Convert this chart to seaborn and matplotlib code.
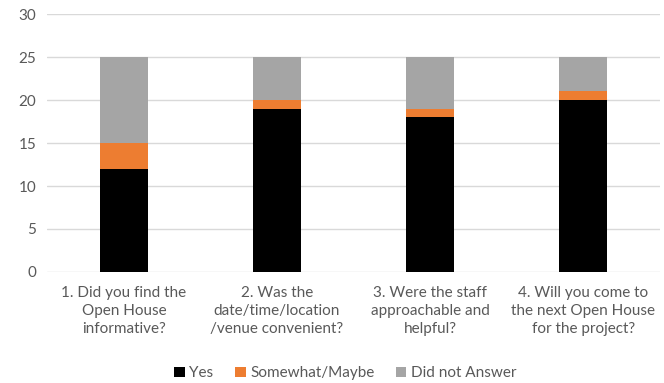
import matplotlib
matplotlib.use("Agg")
import matplotlib.pyplot as plt
from matplotlib.patches import Patch
import seaborn as sns
import pandas as pd
import numpy as np

questions = [
    "1. Did you find the\nOpen House\ninformative?",
    "2. Was the\ndate/time/location\n/venue convenient?",
    "3. Were the staff\napproachable and\nhelpful?",
    "4. Will you come to\nthe next Open House\nfor the project?",
]
yes = [12, 19, 18, 20]
somewhat = [3, 1, 1, 1]
no_answer = [10, 5, 6, 4]

series_names = ["Yes", "Somewhat/Maybe", "Did not Answer"]
colors = ["#000000", "#ED7D31", "#A5A5A5"]

sns.set_theme(style="white")
plt.rcParams["font.family"] = ["Lato", "DejaVu Sans"]
text_color = "#595959"

df = pd.DataFrame({"question": questions, "yes": yes,
                   "somewhat": somewhat, "no_answer": no_answer})
df["top_yes"] = df["yes"]
df["top_somewhat"] = df["yes"] + df["somewhat"]
df["top_total"] = df["top_somewhat"] + df["no_answer"]

fig = plt.figure(figsize=(6.64, 3.83), dpi=100)
ax = fig.add_axes([0.0715, 0.29, 0.922, 0.673])

# stacked bars: draw cumulative totals back to front
for col, color in zip(["top_total", "top_somewhat", "top_yes"], colors[::-1]):
    sns.barplot(data=df, x="question", y=col, color=color, width=0.315,
                saturation=1, ax=ax, zorder=3, edgecolor="none", linewidth=0)

ax.set_ylim(0, 30)
ax.set_yticks(np.arange(0, 31, 5))
ax.set_xlabel("")
ax.set_ylabel("")
ax.grid(axis="y", color="#D9D9D9", linewidth=1, zorder=0)
ax.set_axisbelow(True)
for s in ax.spines.values():
    s.set_visible(False)
ax.tick_params(axis="both", length=0, labelsize=11, colors=text_color)
ax.tick_params(axis="x", pad=10)
ax.tick_params(axis="y", pad=8)
for lbl in ax.get_xticklabels():
    lbl.set_linespacing(1.35)

handles = [Patch(facecolor=c, edgecolor="none") for c in colors]
fig.legend(handles, series_names, loc="center", bbox_to_anchor=(0.52, 0.025),
           ncol=3, frameon=False, fontsize=11, labelcolor=text_color,
           handlelength=0.7, handleheight=0.7, handletextpad=0.3,
           columnspacing=1.4)

fig.savefig("out.png", dpi=100)
